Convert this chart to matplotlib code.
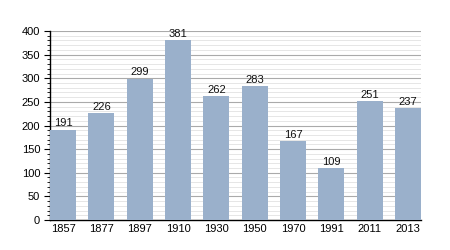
import matplotlib
matplotlib.use("Agg")
import matplotlib.pyplot as plt
import numpy as np
from matplotlib.ticker import MultipleLocator

plt.rcParams['font.family'] = ['Liberation Sans', 'DejaVu Sans']

years = ["1857", "1877", "1897", "1910", "1930", "1950", "1970", "1991", "2011", "2013"]
values = [191, 226, 299, 381, 262, 283, 167, 109, 251, 237]

fig = plt.figure(figsize=(4.5, 2.5), dpi=100)
ax = fig.add_axes([0.111, 0.12, 0.825, 0.756])
x = np.arange(len(years))
w = 0.68
ax.bar(x, values, width=w, color="#9ab0cb", zorder=3)
for xi, v in zip(x, values):
    ax.text(xi, v + 3, str(v), ha="center", va="bottom", fontsize=8, color="#111111", zorder=4)

ax.set_xlim(-w / 2, len(years) - 1 + w / 2)
ax.set_ylim(0, 400)
ax.yaxis.set_major_locator(MultipleLocator(50))
ax.yaxis.set_minor_locator(MultipleLocator(10))
ax.set_xticks(x)
ax.set_xticklabels(years)
ax.grid(axis="y", which="major", color="#aaaaaa", linewidth=0.8, zorder=1)
ax.grid(axis="y", which="minor", color="#e2e2e2", linewidth=0.6, zorder=1)
for s in ["top", "right"]:
    ax.spines[s].set_visible(False)
ax.spines["left"].set_linewidth(1.0)
ax.spines["bottom"].set_linewidth(1.0)
ax.tick_params(axis="x", length=0, labelsize=8, pad=3)
ax.tick_params(axis="y", which="major", length=4, labelsize=8, pad=3)
ax.tick_params(axis="y", which="minor", length=2)
fig.savefig("out.png", dpi=100)
